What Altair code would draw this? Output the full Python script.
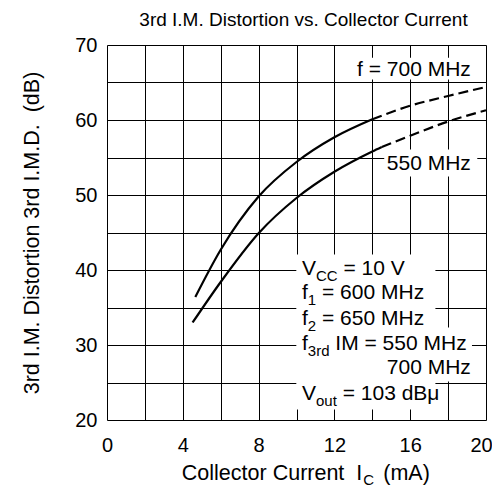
import altair as alt
import pandas as pd

FONT = "Liberation Sans"

# ---- values ----
hi_solid_x = [4.66, 6, 8, 10, 12, 14]
hi_solid_y = [36.4, 42.7, 49.8, 54.4, 57.7, 60.1]
hi_dash_x = [14, 16, 18, 20]
hi_dash_y = [60.1, 61.9, 63.2, 64.4]
lo_solid_x = [4.52, 6, 8, 10, 12, 14, 14.5]
lo_solid_y = [33.0, 38.4, 44.9, 49.6, 53.1, 55.8, 56.4]
lo_dash_x = [14.5, 16, 18, 20]
lo_dash_y = [56.4, 57.9, 59.8, 61.3]

x_grid = list(range(0, 21, 2))
y_grid = list(range(20, 71, 5))
x_last_label = 20

# white boxes behind the in-plot labels
box_x1 = [12.84, 14.63, 9.99, 17.33]
box_x2 = [19.39, 19.54, 17.33, 19.26]
box_y1 = [65.4, 52.47, 21.4, 25.13]
box_y2 = [68.3, 56.07, 42.07, 32.33]

MAIN = 21
SUB = 15
W = {"V": .667, "f": .278, "C": .722, "1": .556, "2": .556, "3": .556,
     "r": .333, "d": .556, "o": .556, "u": .556, "t": .278, " ": .278}


def tw(s, size):
    return sum(W.get(c, .556) for c in s) * size


xs = alt.Scale(domain=[0, 20], nice=False, zero=False)
ys = alt.Scale(domain=[20, 70], nice=False, zero=False)

x_axis = alt.Axis(values=x_grid,
                  labelExpr="(datum.value % 4 === 0 && datum.value < 20) ? datum.label : ''",
                  grid=True, gridColor="black", gridWidth=1, gridOpacity=1,
                  domain=False, ticks=False, tickSize=0, labelPadding=15,
                  labelFontSize=20, labelFont=FONT, labelColor="black",
                  labelFlush=False, labelOverlap=False, title=None)
y_axis = alt.Axis(values=y_grid, labelExpr="datum.value % 10 === 0 ? datum.label : ''",
                  grid=True, gridColor="black", gridWidth=1, gridOpacity=1,
                  domain=False, ticks=False, tickSize=0, labelPadding=10,
                  labelFontSize=20, labelFont=FONT, labelColor="black",
                  labelFlush=False, labelOverlap=False,
                  title="3rd I.M. Distortion 3rd I.M.D. \u00a0(dB)",
                  titleFont=FONT, titleFontSize=21.5, titleFontWeight="normal",
                  titleColor="black", titlePadding=31)

X = alt.X("x:Q", scale=xs, axis=x_axis)
Y = alt.Y("y:Q", scale=ys, axis=y_axis)

boxes = alt.Chart(pd.DataFrame({"x": box_x1, "x2": box_x2, "y": box_y1, "y2": box_y2})).mark_rect(
    fill="white", strokeWidth=0).encode(x=X, x2="x2:Q", y=Y, y2="y2:Q")

solid_df = pd.DataFrame({"x": hi_solid_x + lo_solid_x, "y": hi_solid_y + lo_solid_y,
                         "curve": ["700"] * len(hi_solid_x) + ["550"] * len(lo_solid_x)})
dash_df = pd.DataFrame({"x": hi_dash_x + lo_dash_x, "y": hi_dash_y + lo_dash_y,
                        "curve": ["700"] * len(hi_dash_x) + ["550"] * len(lo_dash_x)})

solid = alt.Chart(solid_df).mark_line(color="black", strokeWidth=2.2, interpolate="monotone").encode(
    x=X, y=Y, detail="curve:N")
dashed = alt.Chart(dash_df).mark_line(color="black", strokeWidth=2.2, interpolate="monotone",
                                      strokeDash=[10, 5]).encode(x=X, y=Y, detail="curve:N")


def txt(x, y, s, size=MAIN, dx=0, dy=0, align="left"):
    return alt.Chart(pd.DataFrame({"x": [x], "y": [y], "t": [s]})).mark_text(
        align=align, baseline="alphabetic", fontSize=size, dx=dx, dy=dy, font=FONT,
        color="black").encode(x=X, y=Y, text="t:N")


def sub_line(x, y, a, b, c):
    """main text a, subscript b, then main text c (preceded by a space)."""
    d1 = tw(a, MAIN)
    d2 = d1 + tw(b, SUB) + tw(" ", MAIN)
    return [txt(x, y, a), txt(x, y, b, size=SUB, dx=d1, dy=6), txt(x, y, c, dx=d2)]


ann_x = 10.29
base_y = [39.4, 36.07, 32.73, 29.4, 26.07, 22.73]
right_x = 19.2

texts = []
texts += sub_line(ann_x, base_y[0], "V", "CC", "= 10 V")
texts += sub_line(ann_x, base_y[1], "f", "1", "= 600 MHz")
texts += sub_line(ann_x, base_y[2], "f", "2", "= 650 MHz")
texts += sub_line(ann_x, base_y[3], "f", "3rd", "IM = 550 MHz")
texts.append(txt(right_x, base_y[4], "700 MHz", align="right"))
texts += sub_line(ann_x, base_y[5], "V", "out", "= 103 dB\u03bc")
texts.append(txt(right_x, 65.9, "f = 700 MHz", align="right"))
texts.append(txt(right_x, 53.4, "550 MHz", align="right"))

# last x tick label, nudged inside the page like the reference
last_lab = alt.Chart(pd.DataFrame({"x": [x_last_label], "t": [str(x_last_label)]})).mark_text(
    align="center", baseline="alphabetic", fontSize=20, font=FONT, color="black", dx=-4.5).encode(
    x=X, y=alt.value(406.7), text="t:N")

# x axis title with subscript
XT = 21.5
xt_x = 13.47
xt1 = alt.Chart(pd.DataFrame({"x": [xt_x], "t": ["Collector Current \u00a0I"]})).mark_text(
    align="right", baseline="alphabetic", fontSize=XT, font=FONT, color="black").encode(
    x=X, y=alt.value(435), text="t:N")
xt2 = alt.Chart(pd.DataFrame({"x": [xt_x], "t": ["C"]})).mark_text(
    align="left", baseline="alphabetic", fontSize=15, font=FONT, color="black", dx=1, dy=5).encode(
    x=X, y=alt.value(435), text="t:N")
xt3 = alt.Chart(pd.DataFrame({"x": [xt_x], "t": ["(mA)"]})).mark_text(
    align="left", baseline="alphabetic", fontSize=XT, font=FONT, color="black", dx=21).encode(
    x=X, y=alt.value(435), text="t:N")

chart = alt.layer(boxes, solid, dashed, *texts, last_lab, xt1, xt2, xt3).properties(
    width=379, height=375,
    title=alt.TitleParams("3rd I.M. Distortion vs. Collector Current", font=FONT, fontSize=19,
                          fontWeight="normal", color="black", anchor="middle", dx=7, offset=5),
    padding={"left": 99, "top": 37, "right": 6, "bottom": 68},
    autosize=alt.AutoSizeParams(type="none"),
).configure_view(stroke="black", strokeWidth=1.5).configure(font=FONT, background="white")

chart.save("out.html", embed_options={"renderer": "svg", "actions": False})
